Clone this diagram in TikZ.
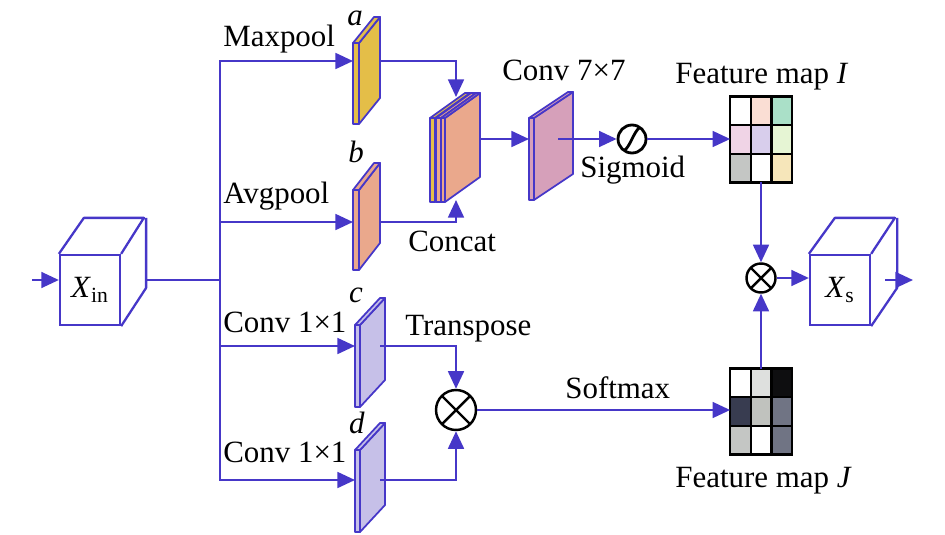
\documentclass[tikz,border=0pt]{standalone}
\usepackage{fontspec}
\setmainfont{Liberation Serif}
\usetikzlibrary{arrows.meta, calc, positioning}
\definecolor{flowblue}{RGB}{70,55,200}
\definecolor{slabyellow}{RGB}{228,190,72}
\definecolor{slabsalmon}{RGB}{234,168,140}
\definecolor{slabpink}{RGB}{214,160,186}
\definecolor{slablav}{RGB}{198,192,232}
% feature map I
\definecolor{mIb}{RGB}{250,222,212}
\definecolor{mIc}{RGB}{170,224,200}
\definecolor{mId}{RGB}{240,212,230}
\definecolor{mIe}{RGB}{216,206,236}
\definecolor{mIf}{RGB}{230,245,212}
\definecolor{mIg}{RGB}{196,198,196}
\definecolor{mIi}{RGB}{246,230,186}
% feature map J
\definecolor{mJb}{RGB}{222,224,222}
\definecolor{mJc}{RGB}{14,14,16}
\definecolor{mJd}{RGB}{56,60,80}
\definecolor{mJe}{RGB}{192,194,190}
\definecolor{mJf}{RGB}{112,116,132}
\definecolor{mJg}{RGB}{196,198,196}

\tikzset{
	flow/.style={draw=flowblue, line width=1.3pt, -{Triangle[length=10pt,width=9pt]}},
	link/.style={draw=flowblue, line width=1.3pt},
	slabline/.style={draw=flowblue, line width=1pt, line join=round},
	cubeface/.style={draw=flowblue, fill=white, line width=1.3pt, minimum width=1.2cm, minimum height=1.4cm, inner sep=0pt, font=\fontsize{17.6}{20}\selectfont},
	otimes/.style={circle, draw=black, fill=white, line width=1.4pt, inner sep=0pt, path picture={\draw[black, line width=1.4pt] (path picture bounding box.north west) -- (path picture bounding box.south east) (path picture bounding box.north east) -- (path picture bounding box.south west);}},
	sigm/.style={circle, draw=black, fill=white, line width=1.6pt, inner sep=0pt, path picture={\draw[black, line width=1.6pt] (path picture bounding box.south west) .. controls (path picture bounding box.south) and (path picture bounding box.north) .. (path picture bounding box.north east);}},
	fmap/.style={minimum width=1.22cm, minimum height=1.7cm, inner sep=0pt},
	gridline/.style={draw=black, line width=1.4pt},
	lbl/.style={font=\fontsize{17.6}{20}\selectfont, inner sep=0pt},
}

% slab: x, y (front top left), width, height, depth x, depth y, colour
\newcommand{\slab}[7]{%
	\filldraw[slabline, fill=#7] (#1,#2) rectangle (#1+#3,#2+#4);
	\filldraw[slabline, fill=#7] (#1+#3,#2) -- (#1+#3+#5,#2+#6) -- (#1+#3+#5,#2+#6+#4) -- (#1+#3,#2+#4) -- cycle;
	\filldraw[slabline, fill=#7] (#1,#2) -- (#1+#5,#2+#6) -- (#1+#3+#5,#2+#6) -- (#1+#3,#2) -- cycle;
}
\newcommand{\tens}[2]{\textit{#1}\textsubscript{#2}}

\begin{document}
\begin{tikzpicture}[x=0.02cm, y=-0.02cm]
	\useasboundingbox (0,0) rectangle (945,534);
	
	% cubes
	\node[cubeface] (xin) at (90,290) {\tens{X}{in}};
	\draw[link, line join=round] (xin.north west) -- ++(25,-36) -- ++(60,0) -- (xin.north east)
		(xin.north east) ++(25,-36) -- ++(0,70) -- (xin.south east);
	\node[cubeface] (xs) at (840,290) {\tens{X}{s}};
	\draw[link, line join=round] (xs.north west) -- ++(26,-36) -- ++(60,0) -- (xs.north east)
		(xs.north east) ++(26,-36) -- ++(0,70) -- (xs.south east);
	
	% slabs
	\slab{353}{43}{6}{81}{21}{-26}{slabyellow}
	\slab{353}{190}{6}{80}{21}{-27}{slabsalmon}
	\slab{430}{118}{5}{84}{35}{-25}{slabyellow}
	\slab{436}{118}{5}{84}{35}{-25}{slabsalmon}
	\slab{441}{118}{4}{84}{35}{-25}{slabsalmon}
	\slab{529}{118}{5}{82}{39}{-26}{slabpink}
	\slab{355}{325}{5}{82}{25}{-27}{slablav}
	\slab{355}{450}{5}{82}{25}{-27}{slablav}
	
	% feature maps
	\node[fmap] (mapI) at (761,139.5) {};
	\node[fmap] (mapJ) at (761,411.5) {};
	\foreach \clr [count=\k from 0] in {white,mIb,mIc,mId,mIe,mIf,mIg,white,mIi} {
		\pgfmathtruncatemacro{\col}{mod(\k,3)}
		\pgfmathtruncatemacro{\row}{div(\k,3)}
		\fill[\clr] ($(mapI.north west)+(\col*61/3,\row*85/3)$) rectangle ++(61/3,85/3);
	}
	\foreach \clr [count=\k from 0] in {white,mJb,mJc,mJd,mJe,mJf,mJg,white,mJf} {
		\pgfmathtruncatemacro{\col}{mod(\k,3)}
		\pgfmathtruncatemacro{\row}{div(\k,3)}
		\fill[\clr] ($(mapJ.north west)+(\col*61/3,\row*85/3)$) rectangle ++(61/3,85/3);
	}
	\foreach \m in {mapI,mapJ} {
		\draw[gridline] (\m.north west) rectangle (\m.south east);
		\foreach \f in {1/3,2/3} {
			\draw[gridline] ($(\m.north west)!\f!(\m.north east)$) -- ($(\m.south west)!\f!(\m.south east)$);
			\draw[gridline] ($(\m.north west)!\f!(\m.south west)$) -- ($(\m.north east)!\f!(\m.south east)$);
		}
	}
	
	% operators
	\node[sigm, minimum size=0.56cm] (sig) at (632,139) {};
	\node[otimes, minimum size=0.8cm] (mul1) at (456,410) {};
	\node[otimes, minimum size=0.58cm] (mul2) at (761,278) {};
	
	% connector ends
	\coordinate (in) at (32,280);
	\coordinate (xinout) at (145,280);
	\coordinate (split) at (220,280);
	\coordinate (ain) at (353,61);
	\coordinate (aout) at (380,61);
	\coordinate (bin) at (353,222);
	\coordinate (bout) at (380,222);
	\coordinate (catup) at (456,97);
	\coordinate (catdown) at (456,200);
	\coordinate (catout) at (480,139);
	\coordinate (convin) at (529,139);
	\coordinate (convout) at (558,139);
	\coordinate (cin) at (355,346);
	\coordinate (cout) at (380,346);
	\coordinate (din) at (355,480);
	\coordinate (dout) at (380,480);
	\coordinate (xsout) at (885,280);
	\coordinate (out) at (913,280);
	
	% arrows
	\draw[flow] (in) -- (in -| xin.west);
	\draw[link] (xinout) -- (split);
	\draw[flow] (split) |- (ain);
	\draw[flow] (split) |- (bin);
	\draw[flow] (split) |- (cin);
	\draw[flow] (split) |- (din);
	\draw[flow] (aout) -| (catup);
	\draw[flow] (bout) -| (catdown);
	\draw[flow] (catout) -- (convin);
	\draw[flow] (convout) -- (sig);
	\draw[flow] (sig) -- (sig -| mapI.west);
	\draw[flow] (cout) -| (mul1);
	\draw[flow] (dout) -| (mul1);
	\draw[flow] (mul1) -- (mul1 -| mapJ.west);
	\draw[flow] (mapI) -- (mul2);
	\draw[flow] (mapJ) -- (mul2);
	\draw[flow] (mul2) -- (mul2 -| xs.west);
	\draw[flow] (xsout) -- (out);
	
	% labels
	\node[lbl, anchor=base west] (maxlbl) at (223,46) {Maxpool};
	\node[lbl, anchor=base west] (avglbl) at (223,203) {Avgpool};
	\node[lbl, anchor=base west] (convclbl) at (223,332) {Conv 1×1};
	\node[lbl, anchor=base west] (convdlbl) at (223,462) {Conv 1×1};
	\node[lbl, anchor=base] (albl) at (355,25) {\textit{a}};
	\node[lbl, anchor=base] (blbl) at (356,162) {\textit{b}};
	\node[lbl, anchor=base] (clbl) at (356,302) {\textit{c}};
	\node[lbl, anchor=base] (dlbl) at (357,433) {\textit{d}};
	\node[lbl, anchor=base west] (catlbl) at (408,251) {Concat};
	\node[lbl, anchor=base west] (conv7lbl) at (502,80) {Conv 7×7};
	\node[lbl, anchor=base west] (siglbl) at (580,177) {Sigmoid};
	\node[lbl, anchor=base west] (maplblI) at (675,83) {Feature map \textit{I}};
	\node[lbl, anchor=base west] (translbl) at (405,335) {Transpose};
	\node[lbl, anchor=base west] (softlbl) at (565,398) {Softmax};
	\node[lbl, anchor=base west] (maplblJ) at (675,487) {Feature map \textit{J}};
	
\end{tikzpicture}
\end{document}
